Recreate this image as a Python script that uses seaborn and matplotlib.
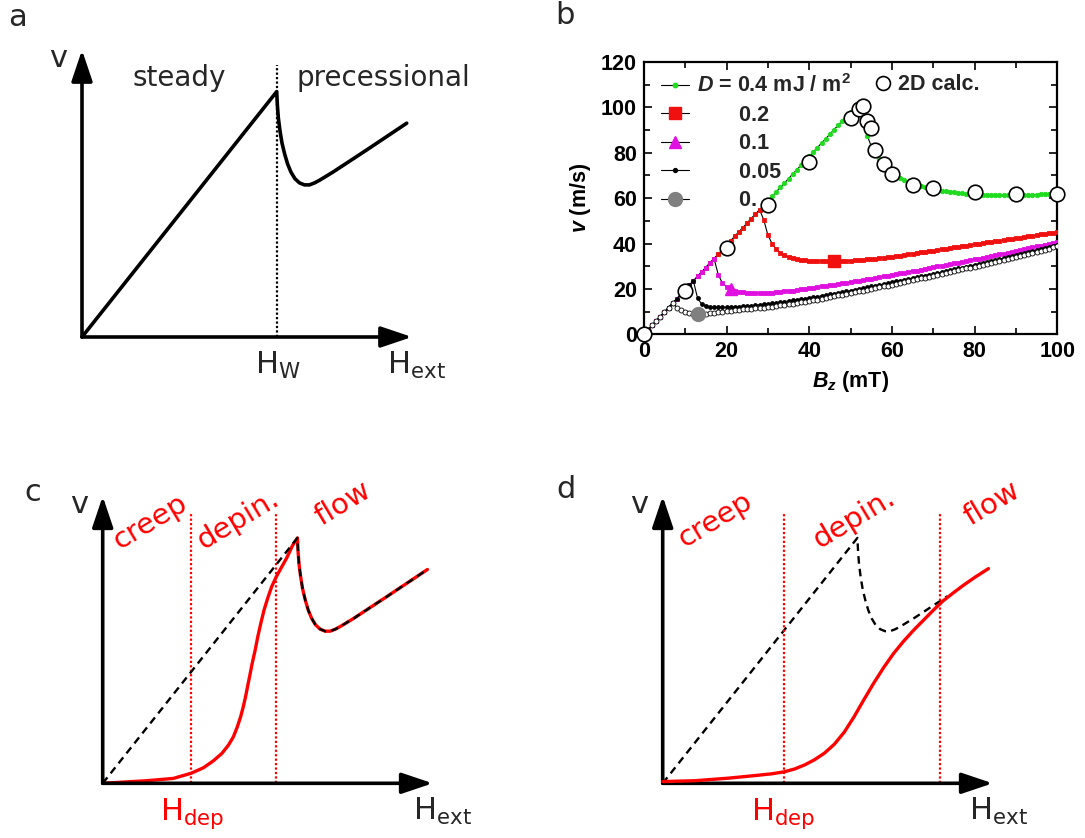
import numpy as np
import seaborn as sns
import matplotlib.pyplot as plt
from matplotlib.lines import Line2D

sns.set_theme(style="white")
plt.rcParams["font.family"] = ["DejaVu Sans"]
plt.rcParams["mathtext.fontset"] = "custom"
plt.rcParams["mathtext.rm"] = "Liberation Sans:bold"
plt.rcParams["mathtext.it"] = "Liberation Sans:bold:italic"
plt.rcParams["mathtext.bf"] = "Liberation Sans:bold"

W, H = 1085, 838

# ---------------- panel b: wall velocity v (m/s) vs Bz (mT), 1 mT steps ----------------
field = np.arange(0, 101)
# common steady-state branch, B = 0..52 mT
rise = [0.0, 2.0, 3.9, 5.9, 7.8, 9.8, 11.8, 13.7, 15.7, 17.6,
        19.6, 21.6, 23.5, 25.5, 27.4, 29.4, 31.4, 33.3, 35.3, 37.2,
        39.2, 41.2, 43.1, 45.1, 47.0, 49.0, 51.0, 52.9, 54.9, 56.8,
        58.8, 60.8, 62.7, 64.7, 66.6, 68.6, 70.6, 72.5, 74.5, 76.4,
        78.4, 80.4, 82.3, 84.3, 86.2, 88.2, 90.2, 92.1, 94.1, 96.0,
        98.0, 100.0, 101.9]
# D = 0.4, B = 53..100
tail_04 = [95.0, 87.6, 83.0, 80.0, 77.3, 75.0, 73.0, 71.3, 69.9, 68.8,
           67.9, 67.1, 66.4, 65.8, 65.3, 64.8, 64.4, 64.0, 63.6, 63.3,
           63.0, 62.7, 62.5, 62.3, 62.1, 61.9, 61.8, 61.7, 61.6, 61.5,
           61.4, 61.4, 61.3, 61.3, 61.3, 61.3, 61.3, 61.4, 61.4, 61.5,
           61.5, 61.6, 61.6, 61.7, 61.7, 61.8, 61.8, 61.9]
# D = 0.2, B = 29..100
tail_02 = [50.5, 43.8, 40.0, 37.6, 36.0, 34.9, 34.1, 33.6, 33.2, 32.9,
           32.7, 32.5, 32.4, 32.3, 32.3, 32.2, 32.2, 32.2, 32.2, 32.3,
           32.4, 32.5, 32.6, 32.8, 32.9, 33.1, 33.2, 33.4, 33.6, 33.8,
           34.0, 34.2, 34.5, 34.7, 35.0, 35.3, 35.6, 35.8, 36.1, 36.4,
           36.6, 36.9, 37.2, 37.5, 37.7, 38.0, 38.3, 38.5, 38.8, 39.1,
           39.4, 39.7, 39.9, 40.2, 40.5, 40.7, 41.0, 41.3, 41.6, 41.8,
           42.1, 42.4, 42.6, 42.9, 43.2, 43.5, 43.7, 44.0, 44.3, 44.5,
           44.8, 45.1]
# D = 0.1, B = 18..100
tail_01 = [26.3, 22.6, 20.9, 20.0, 19.3, 18.8, 18.5, 18.3, 18.2, 18.1,
           18.1, 18.1, 18.2, 18.3, 18.5, 18.7, 18.9, 19.1, 19.3, 19.5,
           19.8, 20.0, 20.3, 20.6, 20.8, 21.1, 21.4, 21.6, 21.9, 22.2,
           22.5, 22.7, 23.0, 23.3, 23.6, 23.9, 24.2, 24.5, 24.9, 25.2,
           25.5, 25.8, 26.1, 26.4, 26.8, 27.1, 27.5, 27.8, 28.1, 28.5,
           28.8, 29.2, 29.5, 29.9, 30.2, 30.6, 30.9, 31.3, 31.6, 32.0,
           32.3, 32.7, 33.0, 33.4, 33.7, 34.1, 34.5, 34.9, 35.2, 35.6,
           35.9, 36.3, 36.7, 37.1, 37.5, 37.9, 38.3, 38.7, 39.1, 39.5,
           39.9, 40.3, 40.7]
# D = 0.05, B = 13..100
tail_005 = [15.9, 13.3, 12.5, 12.2, 12.0, 11.9, 11.9, 11.9, 12.0, 12.1,
            12.2, 12.3, 12.4, 12.6, 12.8, 13.0, 13.2, 13.4, 13.6, 13.9,
            14.1, 14.4, 14.7, 14.9, 15.2, 15.5, 15.7, 16.0, 16.3, 16.6,
            17.0, 17.3, 17.6, 17.9, 18.2, 18.6, 18.9, 19.2, 19.6, 19.9,
            20.3, 20.7, 21.1, 21.4, 21.8, 22.2, 22.5, 22.9, 23.3, 23.6,
            24.0, 24.4, 24.8, 25.1, 25.5, 25.9, 26.2, 26.6, 27.0, 27.4,
            27.8, 28.2, 28.6, 29.0, 29.4, 29.8, 30.2, 30.6, 31.0, 31.4,
            31.9, 32.3, 32.7, 33.1, 33.5, 34.0, 34.4, 34.8, 35.3, 35.7,
            36.2, 36.7, 37.1, 37.6, 38.1, 38.5, 39.0, 39.5]
# D = 0, B = 8..100
tail_0 = [11.8, 10.6, 9.9, 9.4, 9.1, 9.0, 9.0, 9.1, 9.3, 9.5,
          9.7, 10.0, 10.2, 10.4, 10.6, 10.8, 11.0, 11.1, 11.3, 11.4,
          11.6, 11.7, 11.9, 12.2, 12.4, 12.7, 13.0, 13.3, 13.5, 13.8,
          14.1, 14.3, 14.6, 15.0, 15.3, 15.7, 16.0, 16.4, 16.8, 17.1,
          17.5, 17.8, 18.2, 18.6, 18.9, 19.3, 19.7, 20.1, 20.4, 20.8,
          21.2, 21.5, 21.9, 22.3, 22.7, 23.1, 23.5, 23.9, 24.2, 24.6,
          25.0, 25.4, 25.8, 26.2, 26.6, 27.0, 27.4, 27.8, 28.2, 28.6,
          29.0, 29.4, 29.8, 30.2, 30.6, 31.0, 31.5, 31.9, 32.3, 32.7,
          33.2, 33.6, 34.0, 34.5, 34.9, 35.4, 35.9, 36.3, 36.8, 37.3,
          37.8, 38.3, 38.8]

v_04 = rise + tail_04
v_02 = rise[:29] + tail_02
v_01 = rise[:18] + tail_01
v_005 = rise[:13] + tail_005
v_0 = rise[:8] + tail_0
for series in (v_04, v_02, v_01, v_005, v_0):
    assert len(series) == len(field)

calc_B = [0, 10, 20, 30, 40, 50, 52, 53, 54, 55, 56, 58, 60, 65, 70, 80, 90, 100]
calc_v = [0, 19.0, 38.1, 57.2, 76.1, 95.3, 99.2, 100.6, 94.2, 90.7, 81.3,
          75.1, 70.8, 65.8, 64.6, 62.6, 61.9, 61.9]

# ---------------- schematics (arbitrary units, axes span 0..100) ----------------
flow_H = [0, 59.0, 59.2, 59.5, 60.0, 60.6, 61.4, 62.3, 63.3, 64.5, 65.9,
          67.4, 68.9, 70.5, 72.1, 76.1, 86.3, 98.4]
flow_v = [0, 85.5, 80.8, 76.3, 71.8, 67.6, 63.8, 60.3, 57.5, 55.2, 53.7,
          53.0, 53.0, 53.7, 54.7, 57.5, 65.2, 74.5]
creep_c_H = [0, 13.3, 21.4, 26.8, 30.5, 33.5, 36.1, 38.1, 39.6, 40.8, 41.8,
             42.6, 43.3, 43.9, 44.6, 45.3, 46.2, 47.0, 47.9, 48.9, 50.0,
             51.2, 52.7, 54.2, 55.8, 57.5]
creep_c_v = [0, 0.9, 1.7, 3.5, 5.4, 7.8, 10.4, 13.3, 16.2, 19.7, 23.2,
             26.7, 30.2, 33.7, 37.7, 41.8, 46.4, 51.1, 55.7, 60.4, 64.5,
             68.5, 72.2, 75.3, 78.6, 82.8]
creep_d_H = [0, 9.8, 20.0, 28.0, 33.0, 36.8, 40.0, 43.0, 46.0, 49.0, 52.0,
             55.0, 58.0, 61.0, 64.0, 67.0, 70.0, 73.0, 76.0, 79.0, 82.0,
             85.0, 88.0, 91.0, 94.5, 98.7]
creep_d_v = [0.6, 0.9, 1.8, 2.7, 3.3, 4.0, 5.0, 6.4, 8.2, 10.5, 13.6,
             17.8, 23.2, 29.2, 35.0, 40.4, 45.3, 49.5, 53.3, 56.8, 60.3,
             63.6, 66.3, 68.9, 71.7, 74.8]
walker_H = [59.0]
dep_lines_c = [26.8, 52.5]
dep_lines_d = [36.8, 84.0]

fig = plt.figure(figsize=(W / 100, H / 100), dpi=100)


def box(left, top, right, bottom):
    return [left / W, 1 - bottom / H, (right - left) / W, (bottom - top) / H]


def schematic(rect):
    ax = fig.add_axes(rect)
    ax.set_xlim(0, 100)
    ax.set_ylim(0, 100)
    ax.axis("off")
    arrow = dict(arrowstyle="-|>,head_length=0.95,head_width=0.32", lw=2.6,
                 color="black", mutation_scale=20, shrinkA=0, shrinkB=0)
    ax.annotate("", xy=(100, 0), xytext=(0, 0), arrowprops=arrow, annotation_clip=False)
    ax.annotate("", xy=(0, 100), xytext=(0, 0), arrowprops=arrow, annotation_clip=False)
    ax.text(-7.2, 97.2, "v", fontsize=22, ha="center", va="center")
    return ax


sch = dict(fontsize=22, ha="center", va="top")

# ---- a ----
ax_a = schematic(box(82, 50, 412, 337))
sns.lineplot(x=flow_H, y=flow_v, ax=ax_a, color="black", lw=2.6, sort=False,
             estimator=None, clip_on=False)
ax_a.vlines(walker_H, 0, 94.8, colors="black", lw=1.6, linestyles=(0, (1, 1)))
ax_a.text(29.4, 90.2, "steady", fontsize=20, ha="center", va="center")
ax_a.text(65.1, 90.2, "precessional", fontsize=20, ha="left", va="center")
ax_a.text(59.4, -4.5, r"$\mathregular{H_{W}}$", **sch)
ax_a.text(101.4, -4.5, r"$\mathregular{H_{ext}}$", **sch)

# ---- c ----
ax_c = schematic(box(102.7, 496.3, 432.7, 783.3))
sns.lineplot(x=creep_c_H + flow_H[1:], y=creep_c_v + flow_v[1:], ax=ax_c,
             color="red", lw=2.4, sort=False, estimator=None, clip_on=False, zorder=2)
sns.lineplot(x=flow_H, y=flow_v, ax=ax_c, color="black", lw=1.7, sort=False,
             estimator=None, clip_on=False, zorder=3)
ax_c.lines[-1].set_linestyle((0, (3.2, 2.2)))
ax_c.vlines(dep_lines_c, 0, 94.6, colors="red", lw=1.6, linestyles=(0, (1, 1)))

# ---- d ----
ax_d = schematic(box(662.7, 496.3, 992.7, 783.3))
sns.lineplot(x=flow_H[:17], y=flow_v[:17], ax=ax_d, color="black", lw=1.7,
             sort=False, estimator=None, clip_on=False, zorder=2)
ax_d.lines[-1].set_linestyle((0, (3.2, 2.2)))
sns.lineplot(x=creep_d_H, y=creep_d_v, ax=ax_d, color="red", lw=2.4, sort=False,
             estimator=None, clip_on=False, zorder=3)
ax_d.vlines(dep_lines_d, 0, 94.6, colors="red", lw=1.6, linestyles=(0, (1, 1)))

red_txt = dict(fontsize=21, color="red", ha="center", va="center", rotation=31)
for ax, pos in ((ax_c, [(14.3, 91.1), (41.1, 91.7), (72.9, 97.3)]),
                (ax_d, [(15.8, 91.7), (58.0, 92.3), (99.9, 97.3)])):
    for (hx, vy), word in zip(pos, ["creep", "depin.", "flow"]):
        ax.text(hx, vy, word, **red_txt)
ax_c.text(27.2, -4.5, r"$\mathregular{H_{dep}}$", color="red", **sch)
ax_c.text(103.0, -4.5, r"$\mathregular{H_{ext}}$", **sch)
ax_d.text(36.5, -4.5, r"$\mathregular{H_{dep}}$", color="red", **sch)
ax_d.text(101.6, -4.5, r"$\mathregular{H_{ext}}$", **sch)

# ---- b ----
green, red, magenta, grey = "#1fdc1f", "#f01010", "#e010e0", "#808080"
axb = fig.add_axes(box(643.8, 62, 1057.3, 334.3))
line = dict(color="black", lw=0.8, estimator=None, markeredgewidth=0.6)
sns.lineplot(x=field, y=v_04, ax=axb, marker="o", markersize=3.2,
             markerfacecolor=green, markeredgecolor=green, zorder=2, **line)
sns.lineplot(x=field, y=v_02, ax=axb, marker="s", markersize=2.8,
             markerfacecolor=red, markeredgecolor=red, zorder=3, **line)
sns.lineplot(x=field, y=v_01, ax=axb, marker="s", markersize=2.8,
             markerfacecolor=magenta, markeredgecolor=magenta, zorder=4, **line)
sns.lineplot(x=field, y=v_005, ax=axb, marker="o", markersize=2.8,
             markerfacecolor="black", markeredgecolor="black", zorder=5, **line)
sns.lineplot(x=field, y=v_0, ax=axb, marker="o", markersize=3.6,
             markerfacecolor="white", markeredgecolor="black", zorder=6, **line)
axb.plot(field, v_02, ls="none", marker="s", ms=9, color=red, markevery=[46], zorder=7)
axb.plot(field, v_01, ls="none", marker="^", ms=9, color=magenta, markevery=[21], zorder=7)
axb.plot(field, v_0, ls="none", marker="o", ms=10, color=grey, markevery=[13], zorder=7)
sns.scatterplot(x=calc_B, y=calc_v, ax=axb, s=110, color="white", edgecolor="black",
                linewidth=1.2, zorder=8, clip_on=False)

axb.set_xlim(0, 100)
axb.set_ylim(0, 120)
axb.set_xticks(range(0, 101, 20))
axb.set_xticks(range(0, 101, 10), minor=True)
axb.set_yticks(range(0, 121, 20))
axb.set_yticks(range(0, 121, 10), minor=True)
axb.tick_params(which="both", direction="in", top=True, right=True, bottom=True,
                left=True, width=1.2, color="black", labelsize=15.5, pad=5)
axb.tick_params(which="major", length=6)
axb.tick_params(which="minor", length=4)
for sp in axb.spines.values():
    sp.set_color("black")
    sp.set_linewidth(1.6)
for t in axb.get_xticklabels() + axb.get_yticklabels():
    t.set_fontfamily("Liberation Sans")
    t.set_fontweight("bold")
    t.set_color("black")
bold = dict(fontfamily="Liberation Sans", fontweight="bold", fontsize=15.5, color="black")
axb.set_xlabel("$B_z$ (mT)", labelpad=5, **bold)
axb.set_ylabel("$v$ (m/s)", labelpad=6, **bold)

prop = dict(family="Liberation Sans", weight="bold", size=15.5)
h1 = [Line2D([], [], color="black", lw=0.8, marker="o", ms=3.2, mfc=green, mec=green),
      Line2D([], [], color="black", lw=0.8, marker="s", ms=9, mfc=red, mec=red),
      Line2D([], [], color="black", lw=0.8, marker="^", ms=9, mfc=magenta, mec=magenta),
      Line2D([], [], color="black", lw=0.8, marker="o", ms=2.8, mfc="black", mec="black"),
      Line2D([], [], color="black", lw=0.8, marker="o", ms=10, mfc=grey, mec=grey)]
labels1 = ["$D$ = 0.4 mJ / m$^2$", "       0.2", "       0.1", "       0.05", "       0."]
leg1 = axb.legend(h1, labels1, loc="upper left", bbox_to_anchor=(0.042, 0.955),
                  frameon=False, borderaxespad=0, borderpad=0, handlelength=1.3,
                  handletextpad=0.35, labelspacing=0.35, prop=prop)
axb.add_artist(leg1)
h2 = [Line2D([], [], ls="none", marker="o", ms=10, mfc="white", mec="black", mew=1.2)]
axb.legend(h2, ["2D calc."], loc="upper left", bbox_to_anchor=(0.557, 0.955),
           frameon=False, borderaxespad=0, borderpad=0, handlelength=0.8,
           handletextpad=0.3, prop=prop)

# panel letters
for x, y, s in ((17, 18, "a"), (565, 16, "b"), (33, 492, "c"), (566, 489, "d")):
    fig.text(x / W, 1 - y / H, s, fontsize=22, ha="center", va="center")

fig.savefig("out.png", dpi=100)
